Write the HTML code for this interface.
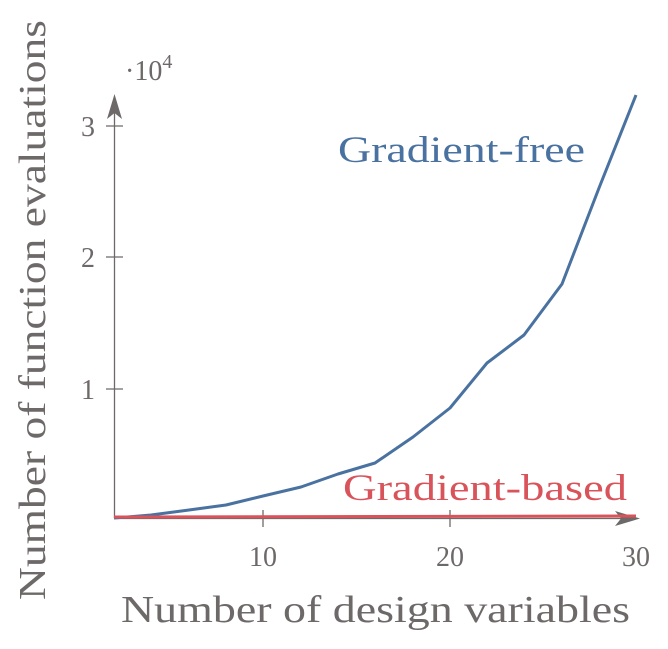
<!DOCTYPE html>
<html><head><meta charset="utf-8"><style>
html,body{margin:0;padding:0;background:#fff;}
svg{display:block;}
text{font-family:"Liberation Serif",serif;fill:#6e6969;}
</style></head><body>
<svg width="668" height="649" viewBox="0 0 668 649" xmlns="http://www.w3.org/2000/svg">
<g stroke="#6e6969" stroke-width="1.3">
<line x1="114.5" y1="518" x2="114.5" y2="104"/>
<line x1="114" y1="518.5" x2="628" y2="518.5"/>
<line x1="263" y1="510" x2="263" y2="527"/>
<line x1="450" y1="510" x2="450" y2="527"/>
<line x1="106" y1="389" x2="123" y2="389"/>
<line x1="106" y1="257" x2="123" y2="257"/>
<line x1="106" y1="126" x2="123" y2="126"/>
</g>
<path d="M114.5 94 L122 119 L114.5 113 L107 119 Z" fill="#6e6969"/>
<path d="M640 518.5 L615 511 L621 518.5 L615 526 Z" fill="#6e6969"/>
<polyline fill="none" stroke="#4a72a0" stroke-width="3" stroke-linejoin="round"
points="114,518 151,515 189,510 226,505 263,496 301,487 338,474 375,463 413,437 450,408 487,363 524,335 562,284 599,188 636,95"/>
<line x1="114" y1="517" x2="636" y2="516" stroke="#d9535b" stroke-width="3"/>
<text x="263" y="566" font-size="28" text-anchor="middle">10</text>
<text x="450" y="566" font-size="28" text-anchor="middle">20</text>
<text x="636" y="566" font-size="28" text-anchor="middle">30</text>
<text x="95" y="399" font-size="28" text-anchor="end">1</text>
<text x="95" y="267" font-size="28" text-anchor="end">2</text>
<text x="95" y="136" font-size="28" text-anchor="end">3</text>
<text x="125" y="80" font-size="28">·10<tspan font-size="20" dy="-12">4</tspan></text>
<text x="121" y="622" font-size="38" textLength="509" lengthAdjust="spacingAndGlyphs">Number of design variables</text>
<text transform="translate(45,600) rotate(-90)" font-size="38" textLength="580" lengthAdjust="spacingAndGlyphs">Number of function evaluations</text>
<text x="338" y="162" font-size="37" textLength="247" lengthAdjust="spacingAndGlyphs" style="fill:#4a72a0">Gradient-free</text>
<text x="343" y="500" font-size="37" textLength="284" lengthAdjust="spacingAndGlyphs" style="fill:#d9535b">Gradient-based</text>
</svg>
</body></html>
